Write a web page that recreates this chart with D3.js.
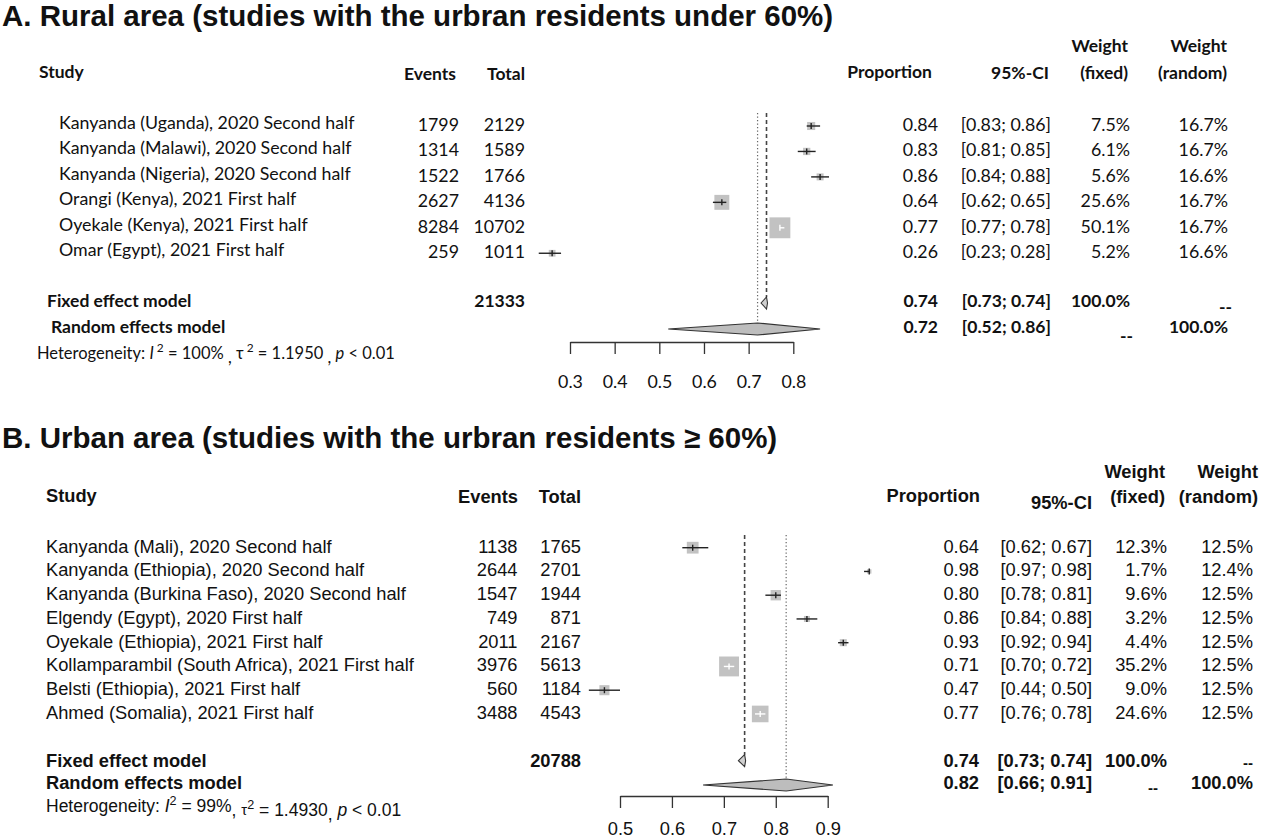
<!DOCTYPE html>
<html><head><meta charset="utf-8">
<script src="https://cdn.jsdelivr.net/npm/d3@7"></script>
<style>body{margin:0;background:#fff}</style>
</head><body>
<svg id="chart" width="1265" height="839"></svg>
<script>
// ---------------- Panel A data ----------------
const titleA = "A. Rural area (studies with the urbran residents under 60%)";
const studiesA = ["Kanyanda (Uganda), 2020 Second half", "Kanyanda (Malawi), 2020 Second half", "Kanyanda (Nigeria), 2020 Second half", "Orangi (Kenya), 2021 First half", "Oyekale (Kenya), 2021 First half", "Omar (Egypt), 2021 First half"];
const eventsA = [1799, 1314, 1522, 2627, 8284, 259];
const totalA = [2129, 1589, 1766, 4136, 10702, 1011];
const propA = [0.84, 0.83, 0.86, 0.64, 0.77, 0.26];
const lowerA = [0.83, 0.81, 0.84, 0.62, 0.77, 0.23];
const upperA = [0.86, 0.85, 0.88, 0.65, 0.78, 0.28];
const wFixedA = [7.5, 6.1, 5.6, 25.6, 50.1, 5.2];
const wRandomA = [16.7, 16.7, 16.6, 16.7, 16.7, 16.6];
const modelNames = ["Fixed effect model", "Random effects model"];
const pooledTotalA = 21333;
const modelPropA = [0.74, 0.72];
const modelLowerA = [0.73, 0.52];
const modelUpperA = [0.74, 0.86];
const heteroA = ["100%", "1.1950", "0.01"];
const ticksA = [0.3, 0.4, 0.5, 0.6, 0.7, 0.8];

// ---------------- Panel B data ----------------
const titleB = "B. Urban area (studies with the urbran residents \u2265 60%)";
const studiesB = ["Kanyanda (Mali), 2020 Second half", "Kanyanda (Ethiopia), 2020 Second half", "Kanyanda (Burkina Faso), 2020 Second half", "Elgendy (Egypt), 2020 First half", "Oyekale (Ethiopia), 2021 First half", "Kollamparambil (South Africa), 2021 First half", "Belsti (Ethiopia), 2021 First half", "Ahmed (Somalia), 2021 First half"];
const eventsB = [1138, 2644, 1547, 749, 2011, 3976, 560, 3488];
const totalB = [1765, 2701, 1944, 871, 2167, 5613, 1184, 4543];
const propB = [0.64, 0.98, 0.80, 0.86, 0.93, 0.71, 0.47, 0.77];
const lowerB = [0.62, 0.97, 0.78, 0.84, 0.92, 0.70, 0.44, 0.76];
const upperB = [0.67, 0.98, 0.81, 0.88, 0.94, 0.72, 0.50, 0.78];
const wFixedB = [12.3, 1.7, 9.6, 3.2, 4.4, 35.2, 9.0, 24.6];
const wRandomB = [12.5, 12.4, 12.5, 12.5, 12.5, 12.5, 12.5, 12.5];
const pooledTotalB = 20788;
const modelPropB = [0.74, 0.82];
const modelLowerB = [0.73, 0.66];
const modelUpperB = [0.74, 0.91];
const heteroB = ["99%", "1.4930", "0.01"];
const ticksB = [0.5, 0.6, 0.7, 0.8, 0.9];

// ---------------- layout (positions / styles) ----------------
const ARIAL = "'Liberation Sans', Arial, Helvetica, sans-serif";
const CALI = "Lato, 'Open Sans', 'DejaVu Sans', sans-serif";

const layoutA = {
  font: CALI, size: 17.8, hsize: 17.5, hetSize: 16.5, supUp: 7,
  titleY: 26,
  studyHeadX: 39, headY: 78, weightY: 52,
  eventsHeadX: 456, totalHeadX: 525, eventsHeadY: 80,
  propHeadX: 932, ciHeadX: 1049, ciHeadY: 79, wfHeadX: 1128, wrHeadX: 1227,
  nameX: 59, eventsX: 459, totalX: 525, propX: 938, ciX: 1051, wfX: 1130, wrX: 1228,
  row0: 126, step: 25.45, nameDy: 3, numDy: 5,
  modelY: [303, 329], modelTextY: [306.5, 332.5], modelX: [47, 51],
  dashA: [1133, 1232], dashDy: 6, dashSize: 17.5,
  hetX: 37, hetY: 359,
  xRange: [570, 793.3], axisY: 342, tickSize: 12, tickPad: 21,
  refTop: 113, sq: 2.95, diaH: 6
};
const layoutB = {
  font: ARIAL, size: 18.3, hsize: 18.3, hetSize: 17.5, supUp: 7,
  titleY: 448,
  studyHeadX: 46, headY: 502, weightY: 478,
  eventsHeadX: 518, totalHeadX: 581, eventsHeadY: 503,
  propHeadX: 980, ciHeadX: 1092, ciHeadY: 509, wfHeadX: 1165, wrHeadX: 1258,
  nameX: 46, eventsX: 517.5, totalX: 581, propX: 979, ciX: 1092, wfX: 1167, wrX: 1253,
  row0: 547.7, step: 23.75, nameDy: 5, numDy: 5,
  modelY: [760.7, 785], modelTextY: [766.5, 788.5], modelX: [46, 46],
  dashA: [1158, 1253], dashDy: 1, dashSize: 15,
  hetX: 46, hetY: 812,
  xRange: [620, 827.7], axisY: 796, tickSize: 12, tickPad: 14,
  refTop: 535, sq: 3.35, diaH: 6
};

const svg = d3.select("#chart");
svg.append("rect").attr("width", 1265).attr("height", 839).attr("fill", "#fff");

function T(g, x, y, s, o) {
  return g.append("text").attr("x", x).attr("y", y)
    .attr("text-anchor", o.anchor || "start")
    .attr("font-family", o.font).attr("font-size", o.size)
    .attr("font-weight", o.bold ? "bold" : "normal")
    .attr("fill", "#111").text(s);
}

const f2 = d3.format(".2f"), f1 = d3.format(".1f");

function drawPanel(L, D) {
  const g = svg.append("g");
  const fo = { font: L.font, size: L.size };
  const fb = { font: L.font, size: L.hsize, bold: true };
  // title
  T(g, 2, L.titleY, D.title, { font: ARIAL, size: 29.5, bold: true });
  // headers
  T(g, L.studyHeadX, L.headY, "Study", fb);
  T(g, L.eventsHeadX, L.eventsHeadY, "Events", { ...fb, anchor: "end" });
  T(g, L.totalHeadX, L.eventsHeadY, "Total", { ...fb, anchor: "end" });
  T(g, L.propHeadX, L.headY, "Proportion", { ...fb, anchor: "end" });
  T(g, L.ciHeadX, L.ciHeadY, "95%-CI", { ...fb, anchor: "end" });
  T(g, L.wfHeadX, L.weightY, "Weight", { ...fb, anchor: "end" });
  T(g, L.wfHeadX, L.headY + 1, "(fixed)", { ...fb, anchor: "end" });
  T(g, L.wrHeadX, L.weightY, "Weight", { ...fb, anchor: "end" });
  T(g, L.wrHeadX, L.headY + 1, "(random)", { ...fb, anchor: "end" });

  const x = d3.scaleLinear().domain([D.ticks[0], D.ticks[D.ticks.length - 1]]).range(L.xRange);
  const y = d3.scaleLinear().domain([0, 1]).range([L.row0, L.row0 + L.step]);
  const side = d3.scaleSqrt().domain([0, 1]).range([0, L.sq]);

  // reference lines
  g.append("line").attr("x1", x(D.mProp[0])).attr("x2", x(D.mProp[0]))
    .attr("y1", L.refTop).attr("y2", L.modelY[0] - L.diaH)
    .attr("stroke", "#444").attr("stroke-width", 1.6).attr("stroke-dasharray", "4,3");
  g.append("line").attr("x1", x(D.mProp[1])).attr("x2", x(D.mProp[1]))
    .attr("y1", L.refTop).attr("y2", L.modelY[1] - L.diaH)
    .attr("stroke", "#666").attr("stroke-width", 1.2).attr("stroke-dasharray", "1.3,2.2");

  // studies
  D.studies.forEach((s, i) => {
    const cy = y(i);
    T(g, L.nameX, cy + L.nameDy, s, fo);
    T(g, L.eventsX, cy + L.numDy, D.events[i], { ...fo, anchor: "end" });
    T(g, L.totalX, cy + L.numDy, D.total[i], { ...fo, anchor: "end" });
    T(g, L.propX, cy + L.numDy, f2(D.prop[i]), { ...fo, anchor: "end" });
    T(g, L.ciX, cy + L.numDy, "[" + f2(D.lower[i]) + "; " + f2(D.upper[i]) + "]", { ...fo, anchor: "end" });
    T(g, L.wfX, cy + L.numDy, f1(D.wf[i]) + "%", { ...fo, anchor: "end" });
    T(g, L.wrX, cy + L.numDy, f1(D.wr[i]) + "%", { ...fo, anchor: "end" });
    const w = side(D.wf[i]);
    const cx = x(D.prop[i]);
    g.append("rect").attr("x", cx - w / 2).attr("y", cy - w / 2).attr("width", w).attr("height", w)
      .attr("fill", "#c2c2c2");
    const inside = x(D.lower[i]) >= cx - w / 2 && x(D.upper[i]) <= cx + w / 2;
    const col = inside ? "#fff" : "#222";
    g.append("line").attr("x1", x(D.lower[i])).attr("x2", x(D.upper[i])).attr("y1", cy).attr("y2", cy)
      .attr("stroke", col).attr("stroke-width", 1.4);
    g.append("line").attr("x1", cx).attr("x2", cx).attr("y1", cy - 3).attr("y2", cy + 3)
      .attr("stroke", col).attr("stroke-width", 1.4);
  });

  // pooled rows
  modelNames.forEach((m, k) => {
    const ty = L.modelTextY[k];
    T(g, L.modelX[k], ty, m, fb);
    T(g, L.propX, ty, f2(D.mProp[k]), { ...fb, anchor: "end" });
    T(g, L.ciX, ty, "[" + f2(D.mLower[k]) + "; " + f2(D.mUpper[k]) + "]", { ...fb, anchor: "end" });
    const cy = L.modelY[k];
    const pts = [[x(D.mLower[k]) - (k === 0 ? 1 : 0), cy], [x(D.mProp[k]), cy - L.diaH], [x(D.mUpper[k]) + (k === 0 ? 1 : 0), cy], [x(D.mProp[k]), cy + L.diaH]];
    g.append("path").attr("d", d3.line()(pts) + "Z")
      .attr("fill", k === 0 ? "#d0d0d0" : "#bdbdbd").attr("stroke", "#333").attr("stroke-width", 1.1);
  });
  T(g, L.totalX, L.modelTextY[0], D.pooledTotal, { ...fb, anchor: "end" });
  T(g, L.wfX, L.modelTextY[0], "100.0%", { ...fb, anchor: "end" });
  T(g, L.dashA[1], L.modelTextY[0] + L.dashDy, "--", { ...fb, size: L.dashSize, anchor: "end" });
  T(g, L.dashA[0], L.modelTextY[1] + L.dashDy + 3, "--", { ...fb, size: L.dashSize, anchor: "end" });
  T(g, L.wrX, L.modelTextY[1], "100.0%", { ...fb, anchor: "end" });

  // heterogeneity
  const up = L.supUp;
  const ht = T(g, L.hetX, L.hetY, "", { font: L.font, size: L.hetSize });
  const wide = D.wideHet;
  ht.append("tspan").text("Heterogeneity: " + (wide ? " " : ""));
  ht.append("tspan").attr("font-style", "italic").text("I");
  ht.append("tspan").attr("dy", -up).attr("font-size", L.hetSize * 0.72).text((wide ? " " : "") + "2");
  ht.append("tspan").attr("dy", up).text((wide ? "  = " : " = ") + D.het[0] + (wide ? " " : ""));
  ht.append("tspan").attr("dy", 4).text(", ");
  ht.append("tspan").attr("dy", wide ? -4 : -1).attr("font-size", wide ? L.hetSize : L.hetSize * 0.85).text("\u03c4");
  ht.append("tspan").attr("dy", wide ? -up : -up + 1).attr("font-size", L.hetSize * 0.72).text((wide ? " " : "") + "2");
  ht.append("tspan").attr("dy", up).text((wide ? "  = " : " = ") + D.het[1] + (wide ? " " : ""));
  ht.append("tspan").attr("dy", 4).text(", ");
  ht.append("tspan").attr("dy", -4).attr("font-style", "italic").text("p");
  ht.append("tspan").text((wide ? "  " : " ") + "< " + D.het[2]);

  // axis
  const ax = g.append("g").attr("transform", `translate(0,${L.axisY})`)
    .call(d3.axisBottom(x).tickValues(D.ticks).tickFormat(d3.format(".1f"))
      .tickSize(L.tickSize).tickSizeOuter(0).tickPadding(L.tickPad));
  ax.select(".domain").attr("stroke", "#333").attr("stroke-width", 1.3);
  ax.selectAll(".tick line").attr("stroke", "#333").attr("stroke-width", 1.3);
  ax.selectAll(".tick text").attr("font-family", L.font).attr("font-size", L.size).attr("fill", "#111");
}

drawPanel(layoutA, {
  title: titleA, studies: studiesA, events: eventsA, total: totalA, prop: propA, lower: lowerA, upper: upperA,
  wf: wFixedA, wr: wRandomA, pooledTotal: pooledTotalA, mProp: modelPropA, mLower: modelLowerA, mUpper: modelUpperA,
  het: heteroA, ticks: ticksA, wideHet: true
});
drawPanel(layoutB, {
  title: titleB, studies: studiesB, events: eventsB, total: totalB, prop: propB, lower: lowerB, upper: upperB,
  wf: wFixedB, wr: wRandomB, pooledTotal: pooledTotalB, mProp: modelPropB, mLower: modelLowerB, mUpper: modelUpperB,
  het: heteroB, ticks: ticksB, wideHet: false
});
</script>
</body></html>
